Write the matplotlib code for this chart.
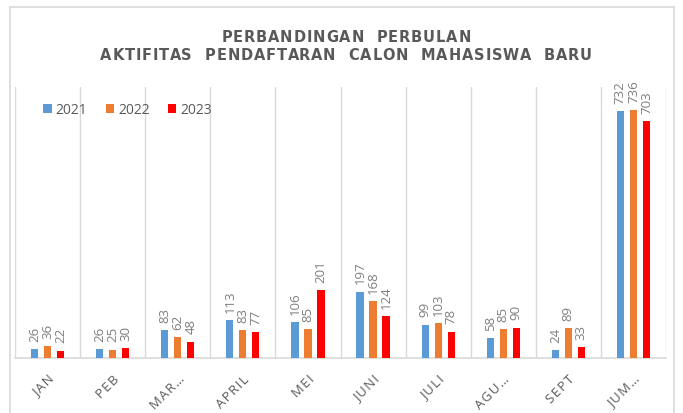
import numpy as np
import matplotlib.pyplot as plt
from matplotlib.lines import Line2D

# Data
bulan = ['JAN', 'PEB', 'MAR\u2026', 'APRIL', 'MEI', 'JUNI', 'JULI', 'AGU\u2026', 'SEPT', 'JUM\u2026']
tahun = ['2021', '2022', '2023']
data_2021 = [26, 26, 83, 113, 106, 197, 99, 58, 24, 732]
data_2022 = [36, 25, 62, 83, 85, 168, 103, 85, 89, 736]
data_2023 = [22, 30, 48, 77, 201, 124, 78, 90, 33, 703]
judul = ['PERBANDINGAN  PERBULAN', 'AKTIFITAS  PENDAFTARAN  CALON  MAHASISWA  BARU']

warna = ['#5B9BD5', '#ED7D31', '#FF0000']
abu = '#595959'

plt.rcParams['font.family'] = ['Open Sans', 'DejaVu Sans']

W, H = 683, 414
fig = plt.figure(figsize=(W / 100, H / 100), dpi=100)
ax = fig.add_axes([15 / W, 1 - 359 / H, (666 - 15) / W, (359 - 88) / H])
renderer = fig.canvas.get_renderer()


def lebar_teks(s, **kw):
    # lebar teks dalam piksel (pakai '|' supaya spasi ikut terhitung)
    t = fig.text(0, 0, '|' + s + '|', **kw)
    t0 = fig.text(0, 0, '||', **kw)
    w = t.get_window_extent(renderer).width - t0.get_window_extent(renderer).width
    t.remove()
    t0.remove()
    return w


def teks_renggang(s, xc, y, jarak, **kw):
    # tulis teks huruf per huruf dengan jarak antar huruf tambahan
    total = lebar_teks(s, **kw) + jarak * (len(s) - 1)
    x0 = xc - total / 2
    for i, c in enumerate(s):
        if c == ' ':
            continue
        x = x0 + lebar_teks(s[:i], **kw) + jarak * i
        fig.text(x / W, 1 - y / H, c, ha='left', va='center', **kw)


x = np.arange(len(bulan))
lebar = 0.11
geser = [-0.2, 0, 0.2]
for seri, w, d, lbl in zip([data_2021, data_2022, data_2023], warna, geser, tahun):
    bars = ax.bar(x + d, seri, width=lebar, color=w, label=lbl, zorder=3)
    for b, v in zip(bars, seri):
        ax.annotate(str(v), (b.get_x() + b.get_width() / 2, v), xytext=(0, 6),
                    textcoords='offset points', rotation=90, ha='center', va='bottom',
                    fontsize=9.5, color='#7F7F7F')

ax.set_xlim(-0.5, len(bulan) - 0.5)
ax.set_ylim(0, 804)
ax.set_yticks([])
ax.set_xticks(x)
ax.set_xticklabels(['\u200a'.join(b) for b in bulan], rotation=45, ha='right',
                   rotation_mode='anchor', fontsize=9.5, color=abu)
ax.tick_params(axis='x', length=0, pad=10)
ax.set_xticks(np.arange(-0.5, len(bulan)), minor=True)
ax.tick_params(axis='x', which='minor', length=0)
ax.grid(axis='x', which='minor', color='#D9D9D9', linewidth=1, zorder=0)
for s in ['top', 'left', 'right']:
    ax.spines[s].set_visible(False)
ax.spines['bottom'].set_color('#D9D9D9')
ax.spines['bottom'].set_linewidth(1.2)

ax.legend(loc='upper left', bbox_to_anchor=(0.035, 0.965), ncol=3, frameon=False,
          handlelength=0.6, handleheight=0.6, handletextpad=0.3, columnspacing=1.3,
          fontsize=10, labelcolor=abu, borderaxespad=0)

# judul dengan jarak huruf seperti di Excel
gaya = dict(fontsize=10.5, color=abu, fontweight='bold', family='DejaVu Sans')
jarak = (492 - lebar_teks(judul[1], **gaya)) / (len(judul[1]) - 1)
teks_renggang(judul[0], 346, 37, jarak, **gaya)
teks_renggang(judul[1], 346, 56, jarak, **gaya)

# bingkai grafik
for xs, ys in [([10, 10], [0, 406]), ([10, 674], [406, 406]), ([674, 674], [0, 406])]:
    fig.add_artist(Line2D([v / W for v in xs], [v / H for v in ys],
                          color='#D9D9D9', linewidth=1.2))

fig.savefig('out.png', dpi=100)
